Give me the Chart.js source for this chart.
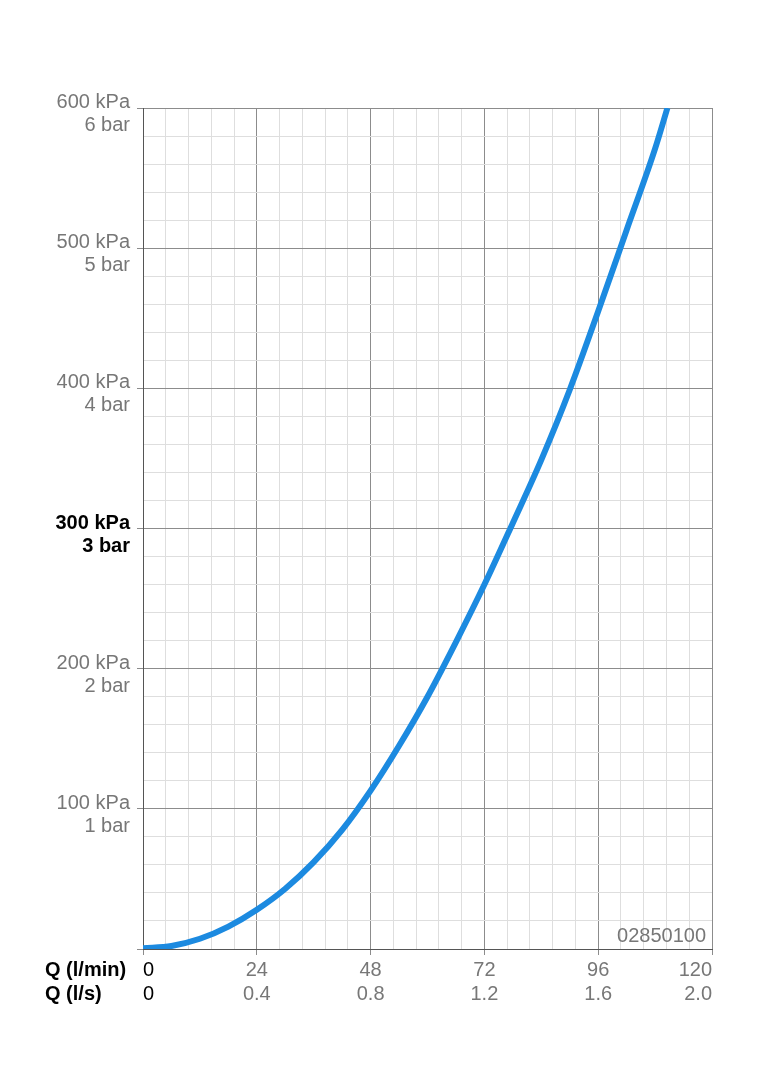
<!DOCTYPE html>
<html>
<head>
<meta charset="utf-8">
<script src="https://cdn.jsdelivr.net/npm/chart.js@4/dist/chart.umd.min.js"></script>
<style>
  body { margin: 0; background: #fff; }
  canvas { display: block; }
</style>
</head>
<body>
<canvas id="chart" width="764" height="1080"></canvas>
<script>
// flow Q (l/min) and pressure loss (kPa)
var flowLpm = [0, 6, 12, 18, 24, 30, 36, 42, 48, 54, 60, 66, 72, 78, 84, 90, 96, 102, 108, 110.6];
var pressureKpa = [0.5, 2.2, 7.3, 16, 28, 43, 62, 85, 113, 145, 180, 219, 260, 304, 349, 399, 455, 513, 571, 600];

var xTicksLpm = [0, 24, 48, 72, 96, 120];
var xTicksLps = ['0', '0.4', '0.8', '1.2', '1.6', '2.0'];
var yTicksKpa = [100, 200, 300, 400, 500, 600];
var yTicksBar = ['1 bar', '2 bar', '3 bar', '4 bar', '5 bar', '6 bar'];
var xTitles = ['Q (l/min)', 'Q (l/s)'];
var chartCode = '02850100';

var gray = '#777';
var majorGrid = '#8c8c8c';
var minorGrid = '#dedede';
var fontFamily = '"Liberation Sans", Arial, sans-serif';

function isMajor(v, step) {
    var r = Math.abs(v / step - Math.round(v / step));
    return r < 1e-6;
}

function tickVal(c) {
    return c && c.tick ? c.tick.value : NaN;
}

// extra text: axis titles left of the x labels and the drawing code
var extraText = {
    id: 'extraText',
    afterDraw: function (chart) {
        var ctx = chart.ctx;
        var area = chart.chartArea;
        ctx.save();
        ctx.fillStyle = '#000';
        ctx.font = 'bold 20px ' + fontFamily;
        ctx.textAlign = 'left';
        ctx.textBaseline = 'middle';
        ctx.fillText(xTitles[0], 45, area.bottom + 21);
        ctx.fillText(xTitles[1], 45, area.bottom + 45);
        ctx.fillStyle = gray;
        ctx.font = '20px ' + fontFamily;
        ctx.textAlign = 'right';
        ctx.fillText(chartCode, area.right - 6, area.bottom - 13);
        ctx.restore();
    }
};

var ctx = document.getElementById('chart').getContext('2d');
var chart = new Chart(ctx, {
    type: 'scatter',
    data: {
        datasets: [{
            data: flowLpm.map(function (q, i) { return { x: q, y: pressureKpa[i] }; }),
            showLine: true,
            borderColor: '#1c8ae0',
            borderWidth: 6,
            pointRadius: 0,
            cubicInterpolationMode: 'monotone',
            fill: false
        }]
    },
    options: {
        responsive: false,
        animation: false,
        layout: { padding: { left: 0, top: 108, right: 52, bottom: 71 } },
        plugins: { legend: { display: false }, tooltip: { enabled: false } },
        scales: {
            x: {
                type: 'linear',
                min: 0,
                max: 120,
                afterFit: function (scale) { scale.height = 60; },
                border: { color: '#555', width: 1 },
                grid: {
                    color: function (c) { return isMajor(tickVal(c), 24) ? majorGrid : minorGrid; },
                    tickColor: function (c) { return isMajor(tickVal(c), 24) ? majorGrid : 'rgba(0,0,0,0)'; },
                    tickLength: 6
                },
                ticks: {
                    stepSize: 4.8,
                    autoSkip: false,
                    maxRotation: 0,
                    align: 'inner',
                    padding: 3,
                    color: function (c) { return tickVal(c) === 0 ? '#000' : gray; },
                    font: { family: fontFamily, size: 20, lineHeight: 1.2 },
                    callback: function (v) {
                        var i = xTicksLpm.indexOf(Math.round(v));
                        if (!isMajor(v, 24) || i < 0) return '';
                        return [String(xTicksLpm[i]), xTicksLps[i]];
                    }
                }
            },
            y: {
                type: 'linear',
                min: 0,
                max: 600,
                afterFit: function (scale) { scale.width = 143; },
                border: { color: '#555', width: 1 },
                grid: {
                    color: function (c) { return isMajor(tickVal(c), 100) ? majorGrid : minorGrid; },
                    tickColor: function (c) { return isMajor(tickVal(c), 100) ? majorGrid : 'rgba(0,0,0,0)'; },
                    tickLength: 6
                },
                ticks: {
                    stepSize: 20,
                    autoSkip: false,
                    padding: 7,
                    labelOffset: 6,
                    color: function (c) { return tickVal(c) === 300 ? '#000' : gray; },
                    font: function (c) {
                        return {
                            family: fontFamily,
                            size: 20,
                            lineHeight: 1.15,
                            weight: tickVal(c) === 300 ? 'bold' : 'normal'
                        };
                    },
                    callback: function (v) {
                        var i = yTicksKpa.indexOf(Math.round(v));
                        if (!isMajor(v, 100) || i < 0) return '';
                        return [yTicksKpa[i] + ' kPa', yTicksBar[i]];
                    }
                }
            }
        }
    },
    plugins: [extraText]
});
</script>
</body>
</html>
